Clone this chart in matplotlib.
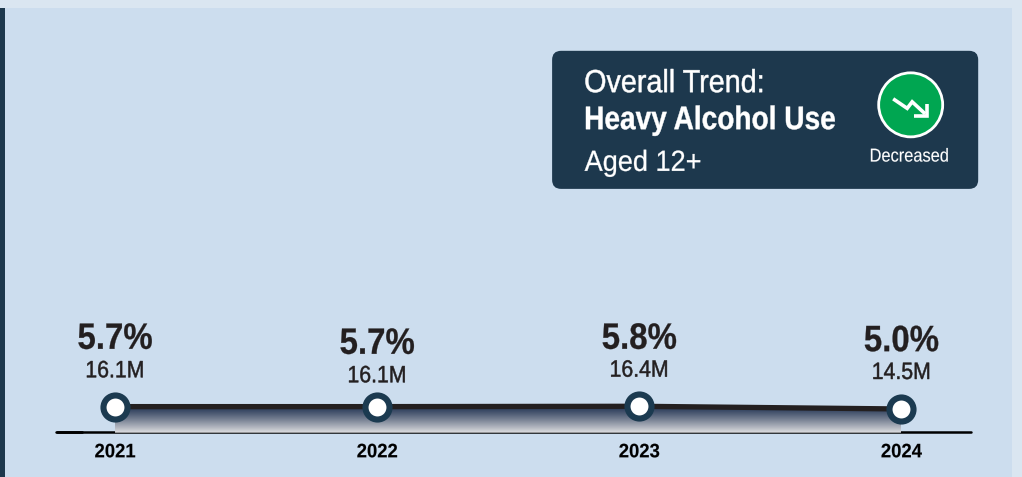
import numpy as np
import matplotlib
matplotlib.use("Agg")
import matplotlib.pyplot as plt
from matplotlib.patches import FancyBboxPatch, Rectangle, Circle, Polygon
from matplotlib.patheffects import AbstractPathEffect
from matplotlib.transforms import Affine2D

years = ["2021", "2022", "2023", "2024"]
percent = [5.7, 5.7, 5.8, 5.0]
pct_labels = ["5.7%", "5.7%", "5.8%", "5.0%"]
count_labels = ["16.1M", "16.1M", "16.4M", "14.5M"]

NAVY = "#1D384D"
INK = "#231F20"
FONT = "Liberation Sans"


class Narrow(AbstractPathEffect):
    """Condense a real text artist horizontally (no condensed face is installed)."""
    def __init__(self, sx, centered=False, stroke=0.0):
        super().__init__()
        self.sx, self.centered, self.stroke = sx, centered, stroke

    def draw_path(self, renderer, gc, tpath, affine, rgbFace=None):
        cx = 0.5 * (tpath.vertices[:, 0].min() + tpath.vertices[:, 0].max()) if self.centered else 0
        t = Affine2D().translate(-cx, 0).scale(self.sx, 1).translate(cx, 0) + affine
        gc0 = renderer.new_gc()
        gc0.copy_properties(gc)
        if self.stroke:
            gc0.set_linewidth(self.stroke)
            gc0.set_foreground(rgbFace)
        else:
            gc0.set_linewidth(0)
        renderer.draw_path(gc0, tpath, t, rgbFace)
        gc0.restore()


W, H = 1022, 477
fig = plt.figure(figsize=((W + 0.2) / 100, (H + 0.2) / 100), dpi=100, facecolor="#DAE6F1")

# pixel-space layer for the panel, card and baseline
bg = fig.add_axes([0, 0, 1, 1], zorder=0)
bg.set_xlim(0, W); bg.set_ylim(H, 0); bg.axis("off")
bg.add_patch(Rectangle((5, 8), 1007, 469, fc="#CCDDEE", ec="none"))
bg.add_patch(Rectangle((0, 8), 5, 469, fc=NAVY, ec="none"))
bg.plot([56, 971], [431.9, 431.9], color="black", lw=1.8, solid_capstyle="round", zorder=5)
bg.plot([57, 82], [432.2, 432.2], color="black", lw=2.0, solid_capstyle="round", zorder=5)

bg.add_patch(FancyBboxPatch((561, 60), 408, 120, boxstyle="round,pad=9,rounding_size=9",
                            fc=NAVY, ec="none"))


def card_text(x, y, s, size, sx, weight="normal", ha="left", stroke=0.0):
    bg.text(x, y, s, color="white", fontsize=size, family=FONT, weight=weight, ha=ha, va="baseline",
            path_effects=[Narrow(sx, centered=ha == "center", stroke=stroke)])


card_text(584, 92.3, "Overall Trend:", 23, 0.9, stroke=0.35)
card_text(584, 129.3, "Heavy Alcohol Use", 23.5, 0.86, weight="bold", stroke=0.3)
card_text(584.5, 171, "Aged 12+", 21, 0.93, stroke=0.2)
card_text(909, 161.7, "Decreased", 13.5, 0.875, ha="center", stroke=0.1)

bg.add_patch(Circle((910.5, 105), 32, fc="#00A651", ec="white", lw=2))
bg.plot([893, 907, 912, 925], [99, 108.5, 102, 114], color="white", lw=2.6,
        solid_joinstyle="miter", solid_capstyle="butt")
bg.plot([927, 927, 914], [104, 116, 116], color="white", lw=2.6,
        solid_joinstyle="miter", solid_capstyle="butt")

# data layer: x = category index, y = percent
x = np.arange(len(years))
y_floor = -2.02
ax = fig.add_axes([115 / W, (H - 432.7) / H, (901.2 - 115) / W, (432.7 - 406.3) / H], zorder=2)
ax.patch.set_alpha(0); ax.axis("off")
ax.set_xlim(0, 3); ax.set_ylim(y_floor, 5.8)

ramp = np.linspace(0, 1, 64)[:, None, None]
top = np.array([0.14, 0.21, 0.33]); low = np.array([0.87, 0.87, 0.88])
grad = top + (low - top) * ramp ** 1.15
im = ax.imshow(grad, extent=(0, 3, y_floor, 5.8), origin="upper", aspect="auto", zorder=1)
poly = Polygon(list(zip(x, percent)) + [(3, y_floor), (0, y_floor)], closed=True,
               transform=ax.transData, fc="none", ec="none")
ax.add_patch(poly)
im.set_clip_path(poly)

ax.plot(x, percent, color=INK, lw=3.8, zorder=3, clip_on=False, solid_capstyle="butt")
ax.plot(x, percent, ls="none", marker="o", ms=17.3, mfc="white", mec="#1B3A50", mew=4.4,
        zorder=4, clip_on=False)

PX = 0.72  # points per pixel at 100 dpi
pct_dy = [57.8, 52.8, 57.5, 57.8]     # baseline lift above each marker, px
count_dy = [29.3, 24.3, 29.6, 30]
for xi, yi, p, c, yr, d1, d2 in zip(x, percent, pct_labels, count_labels, years, pct_dy, count_dy):
    ax.annotate(p, (xi, yi), xytext=(0, d1 * PX), textcoords="offset points", ha="center", va="baseline",
                fontsize=26.4, weight="bold", family=FONT, color=INK, annotation_clip=False,
                path_effects=[Narrow(0.9, True, 0.2)])
    ax.annotate(c, (xi, yi), xytext=(0, d2 * PX), textcoords="offset points", ha="center", va="baseline",
                fontsize=17, family=FONT, color=INK, annotation_clip=False,
                path_effects=[Narrow(0.9, True, 0.35)])
    ax.annotate(yr, (xi, y_floor), xytext=(0, -24.6 * PX), textcoords="offset points", ha="center", va="baseline",
                fontsize=14, weight="bold", family=FONT, color="black", annotation_clip=False,
                path_effects=[Narrow(0.95, True, 0.1)])

fig.savefig("out.png", dpi=100, facecolor=fig.get_facecolor())
